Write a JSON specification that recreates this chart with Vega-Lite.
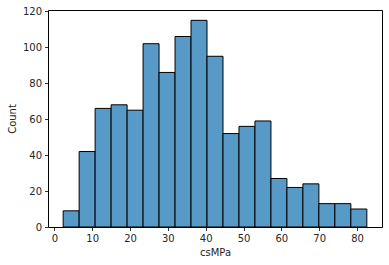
{
  "$schema": "https://vega.github.io/schema/vega-lite/v6.json",
  "width": 334,
  "height": 217,
  "autosize": "none",
  "padding": {"left": 48, "top": 10, "right": 7, "bottom": 38},
  "background": "white",
  "config": {
    "font": "DejaVu Sans",
    "view": {"stroke": "#000000", "strokeWidth": 1},
    "axis": {
      "grid": false,
      "domain": false,
      "tickColor": "#000000",
      "tickSize": 3.5,
      "tickWidth": 0.8,
      "labelFont": "DejaVu Sans",
      "labelFontSize": 10,
      "labelColor": "#262626",
      "labelPadding": 3,
      "titleFont": "DejaVu Sans",
      "titleFontSize": 10,
      "titleFontWeight": "normal",
      "titleColor": "#262626"
    }
  },
  "data": {
    "values": [
      {"start": 2.33, "end": 6.555, "count": 9},
      {"start": 6.555, "end": 10.779, "count": 42},
      {"start": 10.779, "end": 15.004, "count": 66},
      {"start": 15.004, "end": 19.229, "count": 68},
      {"start": 19.229, "end": 23.454, "count": 65},
      {"start": 23.454, "end": 27.678, "count": 102},
      {"start": 27.678, "end": 31.903, "count": 86},
      {"start": 31.903, "end": 36.128, "count": 106},
      {"start": 36.128, "end": 40.353, "count": 115},
      {"start": 40.353, "end": 44.577, "count": 95},
      {"start": 44.577, "end": 48.802, "count": 52},
      {"start": 48.802, "end": 53.027, "count": 56},
      {"start": 53.027, "end": 57.252, "count": 59},
      {"start": 57.252, "end": 61.476, "count": 27},
      {"start": 61.476, "end": 65.701, "count": 22},
      {"start": 65.701, "end": 69.926, "count": 24},
      {"start": 69.926, "end": 74.151, "count": 13},
      {"start": 74.151, "end": 78.375, "count": 13},
      {"start": 78.375, "end": 82.6, "count": 10}
    ]
  },
  "mark": {"type": "rect", "fill": "#5799c7", "stroke": "#000000", "strokeWidth": 1},
  "encoding": {
    "x": {
      "field": "start",
      "type": "quantitative",
      "scale": {"domain": [-1.68, 86.61], "nice": false, "zero": false},
      "axis": {"values": [0, 10, 20, 30, 40, 50, 60, 70, 80], "title": "csMPa", "titlePadding": 4}
    },
    "x2": {"field": "end"},
    "y": {
      "field": "count",
      "type": "quantitative",
      "scale": {"domain": [0, 120.75], "nice": false},
      "axis": {"values": [0, 20, 40, 60, 80, 100, 120], "title": "Count", "titlePadding": 5}
    },
    "y2": {"datum": 0}
  }
}
